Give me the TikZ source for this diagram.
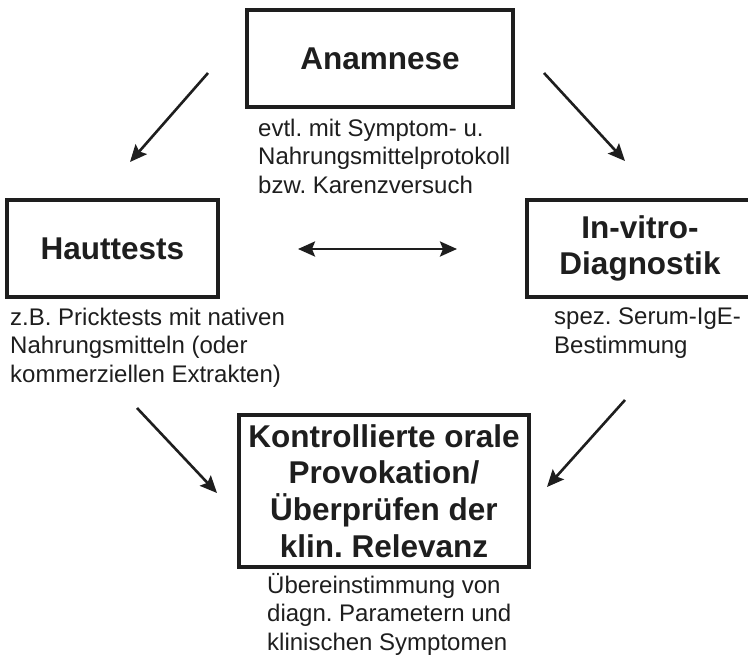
\documentclass[tikz,border=0pt]{standalone}
\usepackage{fontspec}
\setmainfont{Liberation Sans}
\usetikzlibrary{arrows.meta}
\definecolor{ink}{HTML}{1E1E1E}
\frenchspacing
\begin{document}
\begin{tikzpicture}[x=1pt,y=-1pt,
  box/.style={draw=ink,line width=3.2pt,rectangle,inner sep=0pt,align=center,
    font=\fontsize{31.5}{36.8}\selectfont\bfseries,text=ink},
  note/.style={inner sep=0pt,align=left,anchor=base west,
    font=\fontsize{24}{28.2}\selectfont,text=ink},
  arr/.style={draw=ink,line width=2.6pt,-{Stealth[length=17pt,width=15pt,inset=3pt]}},
  darr/.style={draw=ink,line width=2.6pt,{Stealth[length=17pt,width=15pt,inset=3pt]}-{Stealth[length=17pt,width=15pt,inset=3pt]}}]
\useasboundingbox (0,0) rectangle (748,656);
\clip (0,0) rectangle (748,656);
\fill[white] (0,0) rectangle (748,656);
% boxes
\node[box,minimum width=266pt,minimum height=97pt] (anam) at (380,58.5) {Anamnese};
\node[box,minimum width=211pt,minimum height=97pt] (haut) at (112.5,248.5) {Hauttests};
\node[box,minimum width=226pt,minimum height=97pt] (vitro) at (640,248.5) {In-vitro-\\Diagnostik};
\node[box,minimum width=290pt,minimum height=152pt] (prov) at (384,491) {Kontrollierte orale\\Provokation/\\Überprüfen der\\klin. Relevanz};
% notes (anchor = baseline of last line)
\node[note] (nanam) at (258,193) {evtl. mit Symptom- u.\\Nahrungsmittelprotokoll\\bzw. Karenzversuch};
\node[note] (nhaut) at (10,382) {z.B. Pricktests mit nativen\\Nahrungsmitteln (oder\\kommerziellen Extrakten)};
\node[note] (nvitro) at (554,353) {spez. Serum-IgE-\\Bestimmung};
\node[note] (nprov) at (267,650) {Übereinstimmung von\\diagn. Parametern und\\klinischen Symptomen};
% connector ends
\coordinate (a1s) at (208,73);
\coordinate (a1e) at (130,162);
\coordinate (a2s) at (544,73);
\coordinate (a2e) at (625,161);
\coordinate (a3s) at (298,249);
\coordinate (a3e) at (457,249);
\coordinate (a4s) at (137,408);
\coordinate (a4e) at (217,493);
\coordinate (a5s) at (625,400);
\coordinate (a5e) at (547,487);
\draw[arr] (a1s) -- (a1e);
\draw[arr] (a2s) -- (a2e);
\draw[darr] (a3s) -- (a3e);
\draw[arr] (a4s) -- (a4e);
\draw[arr] (a5s) -- (a5e);
\end{tikzpicture}
\end{document}
